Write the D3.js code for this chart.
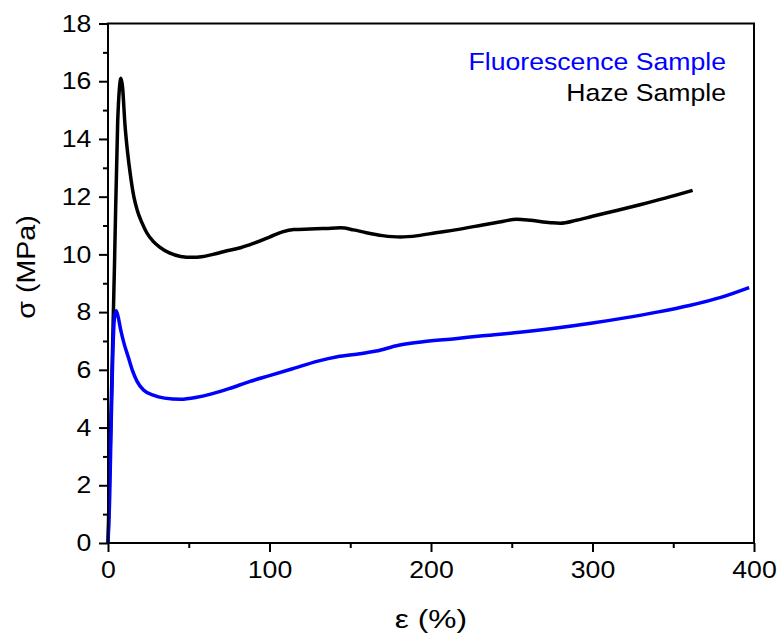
<!DOCTYPE html>
<html>
<head>
<meta charset="utf-8">
<script src="https://cdn.jsdelivr.net/npm/d3@7"></script>
<style>
  body { margin: 0; background: #fff; }
  text { font-family: "Liberation Sans", Arial, sans-serif; }
</style>
</head>
<body>
<div id="chart"></div>
<script>
// strain (%) and stress (MPa)
var hazeStrain = [0, 2, 4, 6, 7, 8, 9, 10.5, 12, 14, 16, 18, 21, 24, 28, 32, 38, 45, 52, 58, 65, 72, 82, 90, 100, 108, 115, 125, 135, 144, 152, 160, 170, 181, 192, 203, 215, 232, 245, 253, 262, 274, 280, 290, 300, 315, 330, 345, 362]
var hazeStress = [0, 4.8, 9.6, 14.6, 15.7, 16.1, 15.8, 14.5, 13.6, 12.7, 12.0, 11.55, 11.1, 10.75, 10.45, 10.25, 10.05, 9.93, 9.9, 9.92, 10.0, 10.1, 10.23, 10.38, 10.6, 10.78, 10.86, 10.88, 10.9, 10.92, 10.85, 10.75, 10.65, 10.6, 10.65, 10.75, 10.85, 11.02, 11.15, 11.22, 11.18, 11.1, 11.08, 11.18, 11.32, 11.52, 11.73, 11.95, 12.22]

var fluorStrain = [0, 1, 2, 3, 4, 5, 6, 8, 10, 12.5, 15, 18, 22, 28, 35, 45, 55, 63, 75, 88, 100, 115, 130, 142, 155, 166, 180, 195, 215, 232, 255, 274, 300, 320, 340, 360, 380, 397]
var fluorStress = [0, 1.5, 4.2, 6.6, 7.8, 8.05, 7.9, 7.35, 6.9, 6.45, 6.0, 5.6, 5.3, 5.12, 5.02, 4.98, 5.05, 5.15, 5.35, 5.6, 5.8, 6.05, 6.3, 6.45, 6.55, 6.65, 6.85, 6.97, 7.08, 7.18, 7.3, 7.42, 7.62, 7.8, 8.0, 8.23, 8.52, 8.85]

var xTicks = [0, 100, 200, 300, 400]
var xMinor = [50, 150, 250, 350]
var yTicks = [0, 2, 4, 6, 8, 10, 12, 14, 16, 18]
var yMinor = [1, 3, 5, 7, 9, 11, 13, 15, 17]

var seriesNames = ["Fluorescence Sample", "Haze Sample"]
var seriesColors = ["#0000ff", "#000000"]

// the text in the picture is a bit wider than the font gives
var stretch = 1.11

// set the dimensions and margins of the graph
var margin = {top: 23.5, right: 27, bottom: 95, left: 108},
    width = 781 - margin.left - margin.right,
    height = 638 - margin.top - margin.bottom;

var svg = d3.select("#chart")
  .append("svg")
    .attr("width", 781)
    .attr("height", 638)
  .append("g")
    .attr("transform", "translate(" + margin.left + "," + margin.top + ")");

var x = d3.scaleLinear().domain([0, 400]).range([0, width]);
var y = d3.scaleLinear().domain([0, 18]).range([height, 0]);

// curves
var line = d3.line()
    .x(function(d) { return x(d[0]); })
    .y(function(d) { return y(d[1]); })
    .curve(d3.curveMonotoneX);

var fluor = d3.zip(fluorStrain, fluorStress)
var haze = d3.zip(hazeStrain, hazeStress)

svg.append("path")
  .datum(haze)
  .attr("fill", "none")
  .attr("stroke", seriesColors[1])
  .attr("stroke-width", 3.5)
  .attr("stroke-linejoin", "round")
  .attr("d", line);

svg.append("path")
  .datum(fluor)
  .attr("fill", "none")
  .attr("stroke", seriesColors[0])
  .attr("stroke-width", 3.5)
  .attr("stroke-linejoin", "round")
  .attr("d", line);

// frame
svg.append("rect")
  .attr("x", 0).attr("y", 0)
  .attr("width", width).attr("height", height)
  .attr("fill", "none")
  .attr("stroke", "#000")
  .attr("stroke-width", 2);

// X axis
svg.append("g")
  .attr("transform", "translate(0," + height + ")")
  .call(d3.axisBottom(x).tickValues(xTicks).tickSize(9).tickPadding(9).tickSizeOuter(0));
svg.append("g")
  .attr("transform", "translate(0," + height + ")")
  .call(d3.axisBottom(x).tickValues(xMinor).tickSize(5).tickFormat("").tickSizeOuter(0));

// Y axis
svg.append("g")
  .call(d3.axisLeft(y).tickValues(yTicks).tickSize(9).tickPadding(6).tickSizeOuter(0));
svg.append("g")
  .call(d3.axisLeft(y).tickValues(yMinor).tickSize(5).tickFormat("").tickSizeOuter(0));

svg.selectAll(".domain").remove();
svg.selectAll(".tick line").attr("stroke", "#000").attr("stroke-width", 2);
svg.selectAll(".tick text")
  .attr("fill", "#000")
  .attr("transform", "scale(" + stretch + ",1)")
  .style("font-size", "24px")
  .style("font-family", "'Liberation Sans', Arial, sans-serif");

// axis titles
svg.append("text")
  .attr("transform", "translate(" + (431 - margin.left) + "," + (628 - margin.top) + ") scale(1.22,1)")
  .attr("text-anchor", "middle")
  .style("font-size", "26px")
  .text("ε (%)");

svg.append("text")
  .attr("transform", "translate(" + (35 - margin.left) + "," + (267 - margin.top) + ") rotate(-90) scale(1.1,1)")
  .attr("text-anchor", "middle")
  .style("font-size", "26px")
  .text("σ (MPa)");

// legend
svg.selectAll(".legend")
  .data(seriesNames)
  .enter()
  .append("text")
  .attr("class", "legend")
  .attr("transform", function(d, i) {
    return "translate(" + (726 - margin.left) + "," + (70 - margin.top + i * 31) + ") scale(" + stretch + ",1)";
  })
  .attr("text-anchor", "end")
  .attr("fill", function(d, i) { return seriesColors[i]; })
  .style("font-size", "24px")
  .text(function(d) { return d; });
</script>
</body>
</html>
